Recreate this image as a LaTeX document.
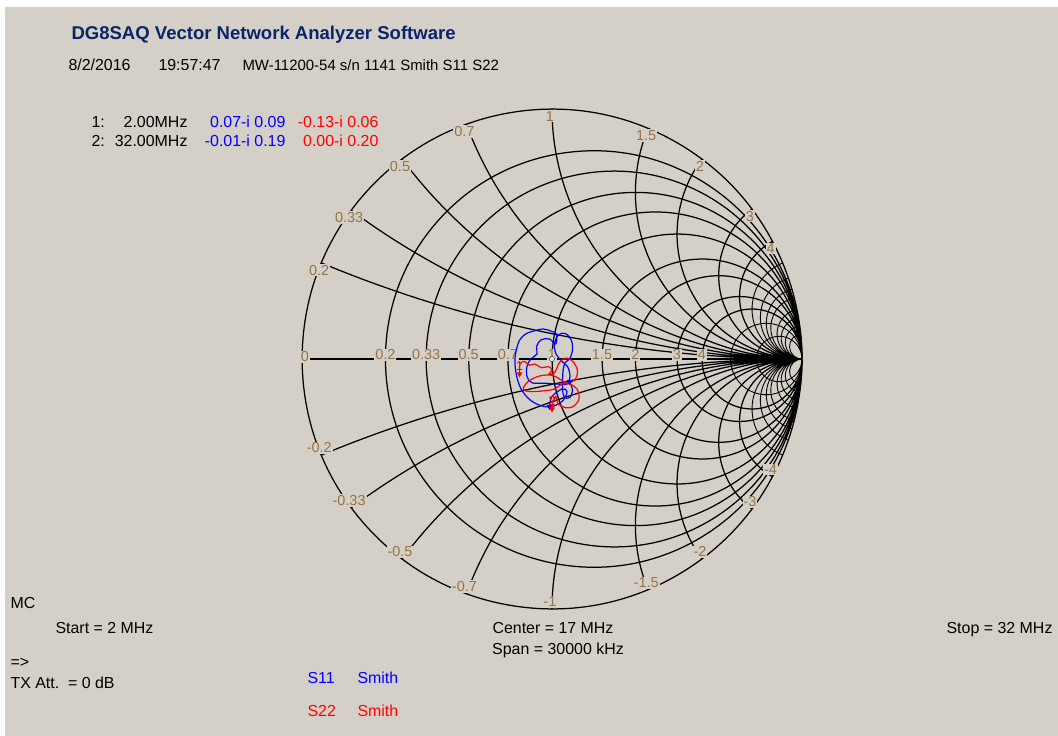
\documentclass[border=0pt]{standalone}
\usepackage{pgfplots}
\pgfplotsset{compat=1.18}
\usepgfplotslibrary{smithchart}
\usepackage{fontspec}
\setmainfont{Liberation Sans}
\definecolor{bg}{RGB}{212,208,200}
\definecolor{navy}{RGB}{10,36,106}
\definecolor{tickc}{RGB}{150,115,70}
\definecolor{vblue}{RGB}{0,0,255}
\definecolor{vred}{RGB}{255,0,0}

% S11 and S22 traces, reflection coefficient (re, im), 2 MHz ... 32 MHz
\newcommand\txt{\fontsize{16}{18}\selectfont}
\newcommand\tck{\fontsize{14.5}{16}\selectfont}

\begin{document}
\begin{tikzpicture}
\fill[white] (0bp,0bp) rectangle (1058bp,-736bp);
\fill[bg] (5bp,-7bp) rectangle (1058bp,-736bp);
\begin{smithchart}[
  at={(552bp,-359bp)}, anchor=center,
  scale only axis, width=500bp,
  xtick={0.2,0.33,0.5,0.7,1,1.5,2,3,4},
  xticklabels={0.2,0.33,0.5,0.7,1,1.5,2,3,4},
  ytick={-4,-3,-2,-1.5,-1,-0.7,-0.5,-0.33,-0.2,0.2,0.33,0.5,0.7,1,1.5,2,3,4},
  yticklabels={},
  minor xtick={6,10},
  minor ytick={-20,-15,-12,-10,-8,-7,-6,-5,5,6,7,8,10,12,15,20},
  grid=both,
  major grid style={black, line width=1.25bp},
  minor grid style={black, line width=0.9bp},
  axis line style={black, line width=1.25bp},
  tick style={draw=none},
  every x tick label/.style={anchor=center, yshift=2bp, fill=bg, inner sep=1pt, font=\tck, text=tickc},
  every y tick label/.style={},
]
\addplot[is smithchart cs, vblue, line width=1.2bp, smooth, tension=0.6] coordinates {
(0.07,-0.09) (0.082,-0.125) (0.07,-0.155) (0.048,-0.15) (0.042,-0.11)
(0.044,-0.05) (0.052,-0.015) (0.07,0.0) (0.082,0.035) (0.077,0.076)
(0.053,0.102) (0.027,0.097) (0.01,0.065) (0.014,0.025) (0.038,-0.008)
(0.062,-0.03) (0.072,-0.07) (0.06,-0.1) (0.02,-0.1) (-0.03,-0.097)
(-0.08,-0.095) (-0.1,-0.07) (-0.1,-0.03) (-0.085,0.0) (-0.06,0.02)
(-0.062,0.05) (-0.043,0.077) (-0.01,0.08) (0.015,0.06) (0.018,0.1)
(0.0,0.11) (-0.035,0.12) (-0.08,0.11) (-0.105,0.1) (-0.13,0.075)
(-0.145,0.025) (-0.148,-0.02) (-0.141,-0.07) (-0.125,-0.117) (-0.095,-0.157)
(-0.055,-0.183) (-0.015,-0.192) (0.015,-0.185) (0.045,-0.165) (0.06,-0.13)
(0.04,-0.12) (0.0,-0.15) (-0.01,-0.19)
};
\addplot[is smithchart cs, vred, line width=1.2bp, smooth, tension=0.6] coordinates {
(-0.13,-0.06) (-0.128,-0.02) (-0.11,-0.01) (-0.09,-0.025) (-0.07,-0.02)
(-0.04,-0.035) (-0.015,-0.03) (0.0,-0.045) (-0.012,-0.06) (0.01,-0.055)
(0.022,-0.03) (0.035,-0.007) (0.06,0.004) (0.088,-0.015) (0.102,-0.05)
(0.09,-0.085) (0.06,-0.095) (0.03,-0.08) (0.0,-0.065) (-0.05,-0.068)
(-0.095,-0.09) (-0.115,-0.12) (-0.09,-0.13) (-0.04,-0.128) (0.01,-0.12)
(0.04,-0.1) (0.07,-0.1) (0.1,-0.12) (0.108,-0.16) (0.085,-0.19)
(0.055,-0.195) (0.025,-0.18) (0.015,-0.15) (0.005,-0.17) (0.0,-0.2)
};
% markers 1 (2 MHz) and 2 (32 MHz)
\addplot[is smithchart cs, only marks, vblue, mark=triangle*, mark size=3bp,
  mark options={rotate=180}]
  coordinates {(0.07,-0.09) (-0.01,-0.19)};
\addplot[is smithchart cs, only marks, vred, mark=triangle*, mark size=3bp,
  mark options={rotate=180}, point meta=explicit symbolic, nodes near coords,
  every node near coord/.style={anchor=south, font=\fontsize{13}{14}\selectfont, inner sep=1pt, yshift=2bp}]
  coordinates {(-0.13,-0.06) [1] (0.0,-0.2) [2]};
% reactance labels on the outer circle
\addplot[is smithchart cs, draw=none, mark=none, point meta=explicit symbolic, nodes near coords,
  every node near coord/.style={anchor=north, xshift=-2bp, yshift=-1bp, fill=bg, inner sep=1pt, font=\tck, text=tickc}]
  coordinates {(-0.9231,0.3846) [0.2] (-0.8036,0.5952) [0.33] (-0.6,0.8) [0.5]
  (-0.3423,0.9396) [0.7] (0,1) [1] (0.3846,0.9231) [1.5] (0.6,0.8) [2]
  (0.8,0.6) [3] (0.8824,0.4706) [4]};
\addplot[is smithchart cs, draw=none, mark=none, point meta=explicit symbolic, nodes near coords,
  every node near coord/.style={anchor=south, xshift=-2bp, yshift=1bp, fill=bg, inner sep=1pt, font=\tck, text=tickc}]
  coordinates {(-0.9231,-0.3846) [-0.2] (-0.8036,-0.5952) [-0.33] (-0.6,-0.8) [-0.5]
  (-0.3423,-0.9396) [-0.7] (0,-1) [-1] (0.3846,-0.9231) [-1.5] (0.6,-0.8) [-2]
  (0.8,-0.6) [-3] (0.8824,-0.4706) [-4]};
\end{smithchart}
\node[fill=bg, inner sep=1pt, font=\tck, text=tickc] at (305bp,-357bp) {0};

\node[anchor=base west, font=\bfseries\fontsize{18.6}{20}\selectfont, text=navy] at (68bp,-39bp) {DG8SAQ Vector Network Analyzer Software};
\node[anchor=base west, font=\txt] at (65bp,-70bp) {8/2/2016};
\node[anchor=base west, font=\txt] at (155bp,-70bp) {19:57:47};
\node[anchor=base west, font=\fontsize{15}{17}\selectfont] at (239bp,-70bp) {MW-11200-54 s/n 1141 Smith S11 S22};

\node[anchor=base west, font=\txt] at (88bp,-127bp) {1:};
\node[anchor=base east, font=\txt] at (191bp,-127bp) {2.00MHz};
\node[anchor=base east, font=\txt, text=vblue] at (289bp,-127bp) {0.07-i 0.09};
\node[anchor=base east, font=\txt, text=vred] at (382bp,-127bp) {-0.13-i 0.06};
\node[anchor=base west, font=\txt] at (88bp,-146bp) {2:};
\node[anchor=base east, font=\txt] at (191bp,-146bp) {32.00MHz};
\node[anchor=base east, font=\txt, text=vblue] at (289bp,-146bp) {-0.01-i 0.19};
\node[anchor=base east, font=\txt, text=vred] at (382bp,-146bp) {0.00-i 0.20};

\node[anchor=base west, font=\txt] at (7bp,-608bp) {MC};
\node[anchor=base west, font=\txt] at (52bp,-633bp) {Start = 2 MHz};
\node[anchor=base, font=\txt] at (553bp,-633bp) {Center = 17 MHz};
\node[anchor=base, font=\txt] at (558bp,-654bp) {Span = 30000 kHz};
\node[anchor=base east, font=\txt] at (1056bp,-633bp) {Stop = 32 MHz};
\node[anchor=base west, font=\txt] at (7bp,-667bp) {=>};
\node[anchor=base west, font=\txt] at (7bp,-688bp) {TX Att.\ \ = 0 dB};
\node[anchor=base west, font=\txt, text=vblue] at (304bp,-683bp) {S11};
\node[anchor=base west, font=\txt, text=vblue] at (354bp,-683bp) {Smith};
\node[anchor=base west, font=\txt, text=vred] at (304bp,-716bp) {S22};
\node[anchor=base west, font=\txt, text=vred] at (354bp,-716bp) {Smith};
\end{tikzpicture}
\end{document}
